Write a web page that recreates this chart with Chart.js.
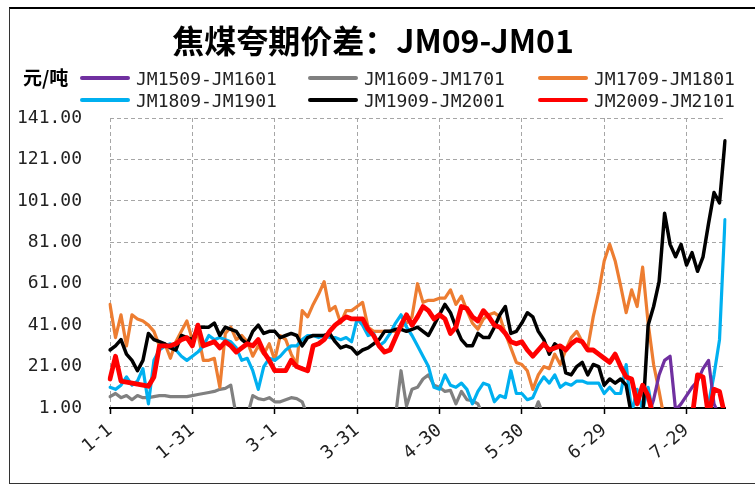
<!DOCTYPE html>
<html>
<head>
<meta charset="utf-8">
<script src="https://cdn.jsdelivr.net/npm/chart.js@4.4.1/dist/chart.umd.min.js"></script>
<style>
  body { margin: 0; background: #fff; }
  #wrap { position: relative; width: 755px; height: 486px; overflow: hidden; font-family: "DejaVu Sans Mono", monospace; }
  #frame { position: absolute; left: 9px; top: 7px; width: 800px; height: 477px; box-sizing: border-box;
           border: 1.5px solid #333; border-top: 2px solid #000; }
  #titulo { position: absolute; top: 16px; left: 0; width: 746px; text-align: center;
            font: bold 32px "Noto Sans CJK SC", sans-serif; color: #000; }
  #unidade { position: absolute; left: 23px; top: 63px; font: bold 19px "Noto Sans CJK SC", sans-serif; color: #000; }
  .item { position: absolute; height: 22px; display: flex; align-items: center; font-size: 18px; color: #222; }
  .item i { display: inline-block; width: 50px; height: 4px; border-radius: 2px; margin-right: 6px; }
  canvas { position: absolute; left: 0; top: 0; }
</style>
</head>
<body>
<div id="wrap">
  <div id="frame"></div>
  <canvas id="grafico" width="755" height="486"></canvas>
  <div id="titulo">焦煤夸期价差：JM09-JM01</div>
  <div id="unidade">元/吨</div>
  <div id="legenda"></div>
</div>
<script>
// Dados (um ponto a cada 2 dias, a partir de 1-1)
const series = ["JM1509-JM1601", "JM1609-JM1701", "JM1709-JM1801", "JM1809-JM1901", "JM1909-JM2001", "JM2009-JM2101"];
const cores = ["#7030A0", "#808080", "#ED7D31", "#00B0F0", "#000000", "#FF0000"];
const xTicks = ["1-1", "1-31", "3-1", "3-31", "4-30", "5-30", "6-29", "7-29"];
const yTicks = [1, 21, 41, 61, 81, 101, 121, 141];

const jm1509 = [...Array(98).fill(null),
  -3, 5, 17, 24, 26, 0, 3, 7, 11, 14, 20, 24, 3, -3, null];

const jm1609 = [6.5, 8, 6, 7, 5, 7, 6, 6, 6.5, 7,
  7, 6.5, 6.5, 6.5, 6.5, 7, 7.5, 8, 8.5, 9,
  10, 10.5, 12, -3, null, -3, 7, 5.5, 5, 6,
  4, 4, 5, 6, 5.5, 4, -3,
  ...Array(15).fill(null),
  -3, 19, 2, 10, 11, 15, 17, 12, 11, 9, 9.5, 3, 9, 5, 4.5, 3, -3,
  ...Array(8).fill(null),
  -3, 4, -3,
  ...Array(33).fill(null)];

const jm1709 = [51, 35, 46, 31, 46, 44, 43, 41, 38, 31,
  32, 25, 33, 38, 43, 34, 37, 24, 24, 25,
  11, 37, 40, 34, 36, 33, 26, 31, 27, 32,
  24, 36, 34, 27, 22, 48, 45, 51, 56, 62,
  48, 50, 42, 48, 48, 50, 52, 40, 38, 38,
  38, 38, 38, 40, 42, 45, 61, 52, 53, 53,
  54, 54, 58, 51, 55, 48, 42, 39, 44, 46,
  47, 45, 37, 30, 23, 22, 19, 10, 17, 21,
  20, 27, 22, 29, 35, 38, 33, 30, 45, 57,
  72, 80, 72, 60, 47, 58, 50, 69, 42, 22,
  9, -5, ...Array(11).fill(null)];

const jm1809 = [11, 10, 12, 16, 12, 14, 20, 3, 24, 29,
  31, 32, 29, 26, 24, 26, 28, 31, 36, 34,
  35, 34, 33, 30, 24, 25, 19, 10, 21, 25,
  24, 26, 29, 31, 31, 34, 36, 36, 35, 36,
  35, 35, 34, 35, 33, 44, 41, 36, 37, 31,
  33, 37, 42, 46, 40, 36, 31, 26, 21, 11,
  10, 17, 12, 11, 13, 10, 3, 9, 13, 12,
  4, 7, 6, 19, 8, 8, 5, 6, 12, 16,
  13, 17, 11, 13, 12, 14, 14, 13, 13, 13,
  8, 11, 8, 8, 22, -1, 10, 0, 11, -3,
  -5, -5, -5, -5, -5, -5, -5, -5, -3, 3,
  17, 34, 92];

const jm1909 = [29, 31, 34, 27, 24, 19, 24, 37, 34, 33,
  32, 30, 29, 36, 35, 34, 40, 40, 40, 42,
  36, 40, 39, 38, 34, 32, 38, 41, 37, 38,
  38, 35, 36, 37, 36, 31, 35, 36, 36, 36,
  37, 33, 30, 31, 30, 27, 29, 30, 32, 34,
  38, 38, 39, 39, 38, 39, 40, 38, 36, 41,
  46, 51, 47, 40, 34, 31, 31, 37, 35, 35,
  40, 46, 50, 37, 38, 42, 47, 45, 38, 34,
  27, 32, 30, 18, 17, 21, 23, 17, 22, 21,
  12, 15, 13, 15, 12, -3, -5, -4, 41, 50,
  62, 95, 80, 74, 80, 70, 76, 67, 74, 90,
  105, 100, 130];

const jm2009 = [15, 26, 14, 13.5, 13, 12.5, 12, 11.5, 16, 31,
  31, 31, 32, 34, 35, 31, 41, 31, 32, 33,
  30, 33, 31, 28, 30, 32, 31, 34, 28, 24,
  19, 19, 19, 24, 21, 20, 19, 31, 32, 34,
  38, 41, 43, 45, 44, 44, 44, 39, 36, 31,
  28, 29, 35, 41, 46, 41, 45, 50, 48, 44,
  46, 44, 37, 40, 50, 49, 45, 43, 48, 45,
  41, 40, 37, 33, 32, 33, 29, 26, 29, 32,
  29, 30, 31, 29, 32, 34, 33, 29, 29, 27,
  25, 23, 27, 21, 16, 15, 3, 12, 7, -4,
  -5, -5, -5, -5, -5, -5, -4, 17, 16, -3,
  10, 9, -3];

const valores = [jm1509, jm1609, jm1709, jm1809, jm1909, jm2009];
const espessura = [3.2, 3.2, 3.2, 3.2, 3.5, 4.8];
const ordem = [3, 6, 5, 4, 2, 1];

// categorias: um dia a cada 2, começando em 1-1 (2020)
const dias = jm1909.map((_, i) => {
  const d = new Date(2020, 0, 1 + 2 * i);
  return (d.getMonth() + 1) + "-" + d.getDate();
});

// Legenda
const legenda = document.getElementById("legenda");
const colX = [80, 308, 538];
const rowY = [67, 89];
series.forEach((nome, i) => {
  const div = document.createElement("div");
  div.className = "item";
  div.style.left = colX[i % 3] + "px";
  div.style.top = rowY[Math.floor(i / 3)] + "px";
  div.innerHTML = `<i style="background:${cores[i]}"></i>${nome}`;
  legenda.appendChild(div);
});

const fonte = { family: "DejaVu Sans Mono", size: 18 };

const datasets = series.map((nome, i) => ({
  label: nome,
  data: valores[i],
  borderColor: cores[i],
  backgroundColor: cores[i],
  borderWidth: espessura[i],
  pointRadius: 0,
  tension: 0,
  order: ordem[i],
  spanGaps: false
}));

new Chart(document.getElementById("grafico"), {
  type: "line",
  data: { labels: dias, datasets: datasets },
  options: {
    responsive: false,
    animation: false,
    layout: { padding: { left: 10, right: 30, top: 118, bottom: 0 } },
    plugins: { legend: { display: false }, tooltip: { enabled: false } },
    elements: { line: { borderJoinStyle: "round", borderCapStyle: "round" } },
    scales: {
      x: {
        afterFit: s => { s.height = 78; },
        ticks: {
          autoSkip: false, maxRotation: 40, minRotation: 40, padding: 6,
          font: fonte, color: "#222",
          callback: (v, i) => (i % 15 === 0 ? xTicks[i / 15] : "")
        },
        grid: {
          color: c => (c.index % 15 === 0 ? "#a6a6a6" : "transparent"),
          tickColor: c => (c.index % 15 === 0 ? "#000" : "transparent"),
          tickLength: 6, tickWidth: 1.5
        },
        border: { display: true, color: "#000", width: 2, dash: [4, 3] }
      },
      y: {
        min: yTicks[0], max: yTicks[yTicks.length - 1],
        afterFit: s => { s.width = 100; },
        afterBuildTicks: s => { s.ticks = yTicks.map(v => ({ value: v })); },
        ticks: { padding: 28, font: fonte, color: "#222", callback: v => v.toFixed(2) },
        grid: { color: "#a6a6a6", drawTicks: false },
        border: { display: false, dash: [4, 3] }
      }
    }
  }
});
</script>
</body>
</html>
